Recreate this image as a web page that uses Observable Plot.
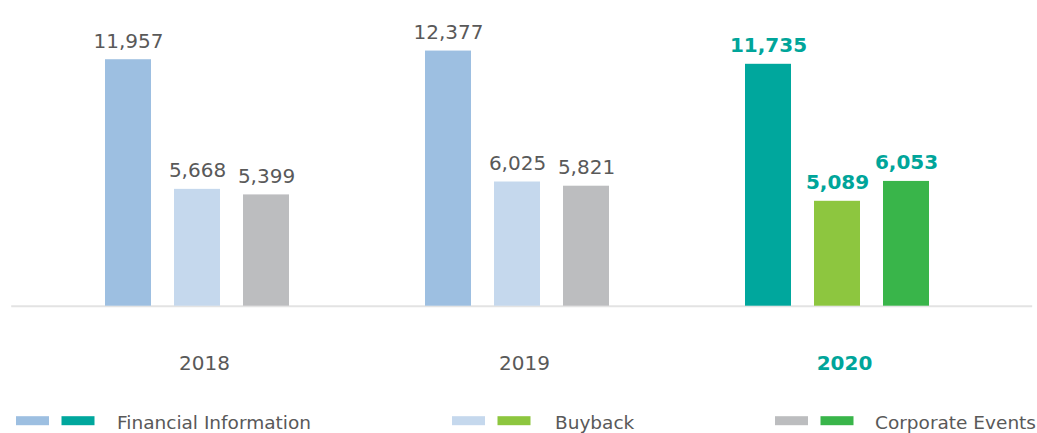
<!DOCTYPE html>
<html><head><meta charset="utf-8">
<script src="https://cdn.jsdelivr.net/npm/d3@7"></script>
<script src="https://cdn.jsdelivr.net/npm/@observablehq/plot@0.6"></script>
<style>
html,body{margin:0;padding:0;background:#fff;overflow:hidden;}
#chart{position:absolute;left:0;top:0;}
#legend{position:absolute;left:0;top:410px;}
</style></head><body>
<div id="chart"></div><div id="legend"></div>
<script>
const years = ["2018", "2019", "2020"];
const categories = ["Financial Information", "Buyback", "Corporate Events"];
const financialInformation = [11957, 12377, 11735];
const buyback = [5668, 6025, 5089];
const corporateEvents = [5399, 5821, 6053];
const pastColors = ["#9dbfe1", "#c5d8ed", "#bcbdbf"];
const currentColors = ["#00a79d", "#8dc63f", "#39b54a"];
const highlightYear = "2020";

const series = [financialInformation, buyback, corporateEvents];
const data = years.flatMap((year, i) => categories.map((category, j) => ({year, category, value: series[j][i]})));
const fmt = d3.format(",");
const isHi = d => d.year === highlightYear;
const colorOf = d => (isHi(d) ? currentColors : pastColors)[categories.indexOf(d.category)];
const font = "'DejaVu Sans', sans-serif";
const grayText = "#595959";
const teal = "#00a59a";

const labelOpts = {fx: "year", x: "category", y: "value", text: d => fmt(d.value), lineAnchor: "bottom", dy: -12, fontSize: 20};
const yearOpts = {fx: d => d, text: d => d, frameAnchor: "bottom", lineAnchor: "top", dy: 49.5, fontSize: 20};

const chart = Plot.plot({
  width: 1037, height: 410,
  marginTop: 0, marginBottom: 104.3, marginLeft: 12, marginRight: 6,
  style: {fontFamily: font, background: "white"},
  fx: {domain: years, paddingInner: 0, paddingOuter: 0.092, align: 0.55, axis: null},
  x: {domain: categories, paddingInner: 0.338, paddingOuter: 0.971, align: 0.444, axis: null},
  y: {domain: [0, 14830], axis: null},
  color: {type: "identity"},
  marks: [
    Plot.frame({anchor: "bottom", facet: "super", stroke: "#e3e3e3", strokeWidth: 2, insetLeft: -32.3, insetRight: -26.7}),
    Plot.barY(data, {fx: "year", x: "category", y: "value", fill: colorOf}),
    Plot.text(data.filter(d => !isHi(d)), {...labelOpts, fill: grayText}),
    Plot.text(data.filter(isHi), {...labelOpts, fill: teal, fontWeight: "bold"}),
    Plot.text(years.filter(y => y !== highlightYear), {...yearOpts, fill: grayText}),
    Plot.text([highlightYear], {...yearOpts, fill: teal, fontWeight: "bold"})
  ]
});
document.getElementById("chart").appendChild(chart);

// Legend
const swatchX = [16, 452, 775];
const labelX = [117, 555, 875];
const svg = d3.select("#legend").append("svg").attr("width", 1037).attr("height", 23)
  .style("font-family", font);
categories.forEach((c, i) => {
  svg.append("rect").attr("x", swatchX[i]).attr("y", 6.2).attr("width", 33).attr("height", 9).attr("fill", pastColors[i]);
  svg.append("rect").attr("x", swatchX[i] + 45.5).attr("y", 6.2).attr("width", 33).attr("height", 9).attr("fill", currentColors[i]);
  svg.append("text").attr("x", labelX[i]).attr("y", 18.6).attr("font-size", 18.5).attr("fill", grayText).text(c);
});
</script>
</body></html>
